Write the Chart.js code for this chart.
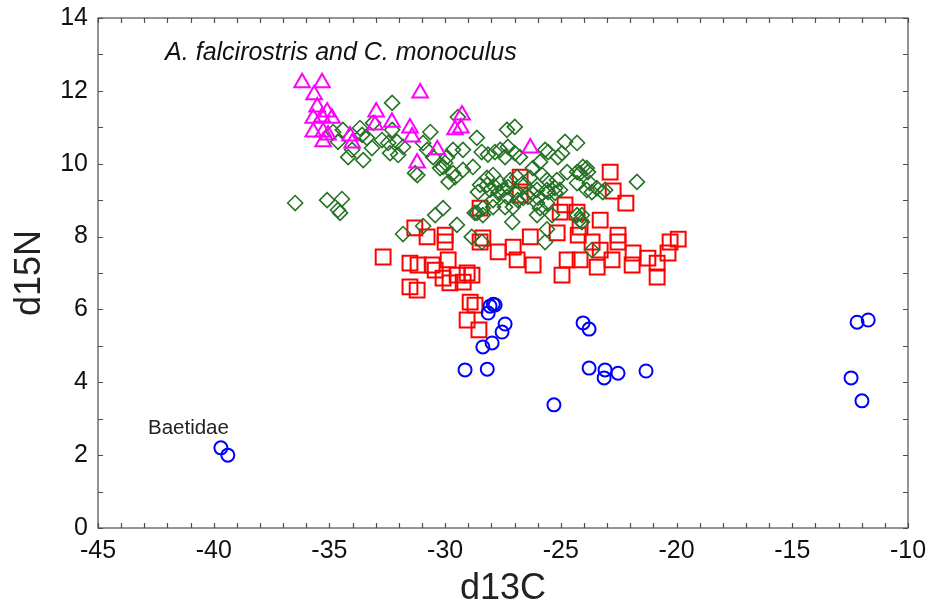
<!DOCTYPE html>
<html>
<head>
<meta charset="utf-8">
<script src="https://cdn.jsdelivr.net/npm/chart.js@4.4.1/dist/chart.umd.min.js"></script>
<style>
  html, body { margin: 0; padding: 0; background: #fff; }
  #wrap { width: 928px; height: 611px; }
</style>
</head>
<body>
<div id="wrap"><canvas id="isoChart"></canvas></div>
<script>
// tick labels
const xTickValues = [-45, -40, -35, -30, -25, -20, -15, -10];
const yTickValues = [0, 2, 4, 6, 8, 10, 12, 14];

// blue circles (incl. Baetidae)
const circleX = [-28.06, -27.84, -27.92, -28.14, -27.41, -27.54, -27.97, -28.37, -29.14, -28.18, -25.30,
  -24.04, -23.78, -23.78, -23.09, -23.13, -22.53, -21.32, -12.46, -11.99, -12.20, -11.72, -39.69, -39.39];
const circleY = [6.09, 6.12, 6.14, 5.90, 5.60, 5.38, 5.08, 4.97, 4.34, 4.36, 3.38,
  5.63, 5.46, 4.39, 4.34, 4.12, 4.25, 4.31, 4.12, 3.49, 5.65, 5.71, 2.20, 2.00];

// red squares
const squareX = [-32.68, -31.31, -30.78, -30.00, -30.00, -31.52, -31.17, -30.56, -30.43, -29.87,
  -29.48, -29.05, -28.84, -30.09, -29.79, -29.22, -31.52, -31.21, -28.92, -28.71,
  -29.05, -28.54, -28.49, -28.49, -27.71, -27.06, -26.32, -26.89, -26.20, -25.16,
  -24.82, -25.03, -24.30, -24.17, -24.25, -23.30, -23.65, -23.30, -24.73, -24.17,
  -24.95, -23.43, -22.87, -22.74, -22.19, -22.53, -22.53, -22.79, -21.88, -21.92,
  -21.24, -20.84, -20.28, -19.93, -20.37, -20.84, -26.76, -26.76, -28.37];
const squareY = [7.44, 8.24, 7.99, 8.04, 7.85, 7.27, 7.22, 7.22, 7.08, 7.36,
  6.94, 7.00, 6.94, 6.86, 6.73, 6.75, 6.62, 6.53, 6.20, 6.12,
  5.71, 5.44, 8.78, 7.85, 7.58, 7.71, 7.99, 7.36, 7.22, 8.10,
  8.87, 8.67, 8.67, 8.26, 8.04, 8.45, 7.85, 7.63, 7.36, 7.36,
  6.94, 7.16, 9.77, 9.25, 8.92, 8.04, 7.85, 7.36, 7.55, 7.22,
  7.41, 7.27, 7.85, 7.93, 7.55, 6.89, 9.63, 9.14, 7.96];

// green diamonds
const diamondX = [-36.48, -35.10, -34.46, -34.63, -34.54, -32.29, -33.11, -32.29, -33.68, -34.42,
  -34.84, -33.59, -33.38, -32.73, -33.16, -34.19, -33.54, -32.46, -32.08, -31.82,
  -32.38, -32.03, -31.30, -30.64, -30.95, -30.78, -30.52, -29.92, -30.00, -30.22,
  -29.66, -29.66, -29.45, -34.63, -34.02, -29.85, -31.20, -27.33, -26.99, -28.63,
  -29.23, -30.09, -29.23, -29.57, -28.80, -28.42, -27.85, -27.41, -26.99, -26.77,
  -27.29, -25.90, -26.21, -25.55, -25.13, -24.82, -24.30, -24.05, -23.83, -24.30,
  -24.73, -25.17, -25.60, -25.81, -26.33, -26.63, -26.89, -27.19, -27.62, -28.19,
  -28.49, -28.58, -28.06, -27.70, -27.33, -27.93, -28.37, -28.62, -27.41, -27.07,
  -26.86, -26.42, -26.03, -25.60, -25.25, -26.03, -25.60, -26.03, -24.30, -23.88,
  -23.66, -23.45, -23.19, -21.71, -27.10, -29.49, -28.15, -27.62, -25.68, -24.95,
  -23.88, -24.18, -24.30, -23.75, -23.09, -27.93, -28.19, -27.84, -27.49, -27.29,
  -26.98, -26.63, -26.25, -25.99, -25.55, -25.25, -25.04, -25.38, -25.90, -28.37,
  -24.18, -24.09, -25.60, -25.68, -28.41, -23.66, -24.09, -30.43, -30.09, -30.95,
  -31.82, -28.85, -28.72, -27.93];
const diamondY = [8.92, 9.00, 9.03, 8.73, 8.65, 11.67, 11.12, 10.93, 10.98, 10.93,
  10.87, 10.79, 10.71, 10.65, 10.43, 10.18, 10.10, 10.57, 10.60, 10.46,
  10.29, 10.24, 9.74, 10.87, 10.57, 10.38, 10.18, 10.18, 10.02, 9.88,
  9.74, 10.38, 11.28, 10.60, 10.38, 9.50, 9.69, 10.93, 11.01, 10.71,
  10.38, 9.91, 9.83, 9.63, 9.91, 10.32, 10.32, 10.18, 10.29, 10.18,
  10.46, 10.05, 9.88, 10.32, 10.18, 10.60, 10.57, 9.91, 9.77, 9.77,
  9.77, 9.55, 9.55, 9.69, 9.61, 9.47, 9.63, 9.55, 9.47, 9.61,
  9.42, 9.22, 9.28, 9.20, 9.09, 9.00, 8.78, 8.65, 8.81, 8.81,
  9.00, 9.09, 9.28, 9.28, 9.33, 8.92, 8.92, 8.59, 8.59, 9.28,
  9.22, 9.33, 9.22, 9.50, 8.40, 8.32, 10.25, 10.38, 10.38, 10.29,
  9.88, 9.74, 9.47, 9.47, 9.28, 9.69, 9.42, 9.36, 9.28, 9.36,
  9.20, 9.06, 9.20, 9.06, 9.22, 9.20, 9.28, 8.59, 8.78, 8.59,
  8.45, 8.59, 8.20, 7.85, 7.85, 7.63, 8.40, 8.59, 8.78, 8.29,
  8.07, 7.99, 8.65, 8.81];

// magenta triangles
const triangleX = [-36.18, -35.32, -35.66, -35.53, -35.10, -35.70, -35.32, -34.89, -35.70, -35.27,
  -35.06, -35.27, -34.11, -34.02, -32.98, -33.03, -32.30, -31.52, -31.43, -31.08,
  -30.34, -31.21, -29.57, -29.32, -29.27, -26.32];
const triangleY = [12.22, 12.22, 11.89, 11.56, 11.42, 11.25, 11.28, 11.25, 10.87, 10.87,
  10.79, 10.60, 10.76, 10.57, 11.42, 11.06, 11.14, 10.98, 10.73, 11.94,
  10.38, 10.02, 10.93, 10.98, 11.34, 10.43];

const FONT = "'Liberation Sans', Arial, sans-serif";

function toPoints(xs, ys) {
    return xs.map((x, i) => ({ x: x, y: ys[i] }));
}

const framePlugin = {
    id: 'frame',
    beforeDatasetsDraw(chart) {
        const { ctx, chartArea: a, scales: { x, y } } = chart;
        ctx.save();
        ctx.strokeStyle = '#4d4d4d';
        ctx.lineWidth = 1.2;
        ctx.strokeRect(a.left, a.top, a.right - a.left, a.bottom - a.top);
        ctx.beginPath();
        for (let v = x.min; v <= x.max; v++) {
            const px = Math.round(x.getPixelForValue(v)) + 0.5;
            ctx.moveTo(px, a.bottom); ctx.lineTo(px, a.bottom - 5);
            ctx.moveTo(px, a.top); ctx.lineTo(px, a.top + 5);
        }
        for (let v = y.min; v <= y.max; v++) {
            const py = Math.round(y.getPixelForValue(v)) + 0.5;
            ctx.moveTo(a.left, py); ctx.lineTo(a.left + 5, py);
            ctx.moveTo(a.right, py); ctx.lineTo(a.right - 5, py);
        }
        ctx.stroke();
        ctx.restore();
    },
    afterDraw(chart) {
        const { ctx, scales: { x, y } } = chart;
        ctx.save();
        ctx.fillStyle = '#111';
        ctx.textBaseline = 'alphabetic';
        ctx.font = "italic 25px " + FONT;
        ctx.fillText('A. falcirostris and C. monoculus', x.getPixelForValue(-42.1), y.getPixelForValue(12.85));
        ctx.fillStyle = '#222';
        ctx.font = "20.5px " + FONT;
        ctx.fillText('Baetidae', x.getPixelForValue(-42.84), y.getPixelForValue(2.58));
        ctx.restore();
    }
};

const ctx = document.getElementById('isoChart').getContext('2d');
const isoChart = new Chart(ctx, {
    type: 'scatter',
    data: {
        datasets: [{
            label: 'circles',
            data: toPoints(circleX, circleY),
            pointStyle: 'circle',
            pointRadius: 6.5,
            borderColor: '#0000ff',
            backgroundColor: 'rgba(0,0,0,0)',
            borderWidth: 2
        }, {
            label: 'triangles',
            data: toPoints(triangleX, triangleY),
            pointStyle: 'triangle',
            pointRadius: 9,
            borderColor: '#ff00ff',
            backgroundColor: 'rgba(0,0,0,0)',
            borderWidth: 2
        }, {
            label: 'diamonds',
            data: toPoints(diamondX, diamondY),
            pointStyle: 'rectRot',
            pointRadius: 7.5,
            borderColor: '#267326',
            backgroundColor: 'rgba(0,0,0,0)',
            borderWidth: 1.6
        }, {
            label: 'squares',
            data: toPoints(squareX, squareY),
            pointStyle: 'rect',
            pointRadius: 10.5,
            borderColor: '#ff0000',
            backgroundColor: 'rgba(0,0,0,0)',
            borderWidth: 2
        }]
    },
    options: {
        responsive: true,
        maintainAspectRatio: false,
        animation: false,
        layout: { padding: { top: 18, right: 20, left: 0, bottom: 0 } },
        plugins: {
            legend: { display: false },
            tooltip: { enabled: false }
        },
        scales: {
            x: {
                type: 'linear',
                min: -45,
                max: -10,
                afterBuildTicks: s => { s.ticks = xTickValues.map(v => ({ value: v })); },
                afterFit: s => { s.height = 83; s.paddingLeft = 0; s.paddingRight = 0; },
                grid: { display: false, drawTicks: false },
                border: { display: false },
                ticks: {
                    font: { family: FONT, size: 25 },
                    color: '#111',
                    padding: 8,
                    maxRotation: 0,
                    callback: v => String(v)
                },
                title: {
                    display: true,
                    text: 'd13C',
                    font: { family: FONT, size: 36 },
                    color: '#222',
                    padding: { top: 0, bottom: 0 }
                }
            },
            y: {
                type: 'linear',
                min: 0,
                max: 14,
                afterBuildTicks: s => { s.ticks = yTickValues.map(v => ({ value: v })); },
                afterFit: s => { s.width = 98; s.paddingTop = 0; s.paddingBottom = 0; },
                grid: { display: false, drawTicks: false },
                border: { display: false },
                ticks: {
                    font: { family: FONT, size: 25 },
                    color: '#111',
                    padding: 10,
                    callback: v => String(v)
                },
                title: {
                    display: true,
                    text: 'd15N',
                    font: { family: FONT, size: 36 },
                    color: '#222',
                    padding: { top: 8, bottom: 0 }
                }
            }
        }
    },
    plugins: [framePlugin]
});
</script>
</body>
</html>
